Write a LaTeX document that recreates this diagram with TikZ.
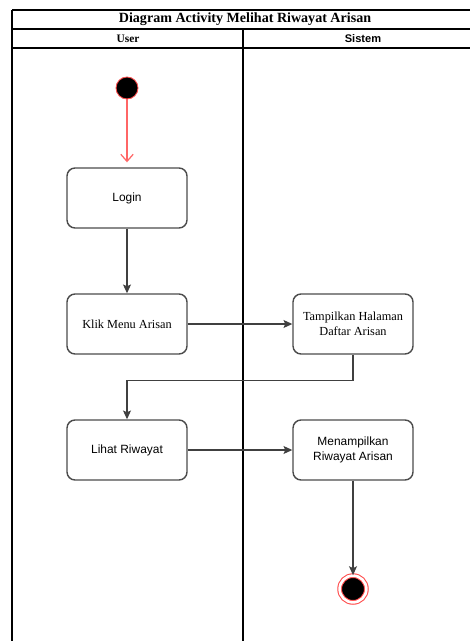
\documentclass[tikz,border=0pt]{standalone}
\usepackage{fontspec}
\setmainfont{Liberation Serif}
\setsansfont{Liberation Sans}
\usetikzlibrary{arrows.meta}

\begin{document}
\begin{tikzpicture}[x=0.02cm,y=-0.02cm,
    act/.style={draw=black!70,line width=0.8pt,rounded corners=0.16cm,fill=white,
      minimum width=2.4cm,minimum height=1.2cm,align=center,inner sep=1pt},
    actsf/.style={act,font=\sffamily\fontsize{6.8}{8.5}\selectfont},
    actrm/.style={act,font=\rmfamily\fontsize{7}{8.5}\selectfont},
    flow/.style={draw=black!75,line width=0.7pt,-{Stealth[length=5pt,width=4.5pt,inset=1pt]}}]
  \useasboundingbox (0,0) rectangle (470,641);

  % frame of the swimlanes
  \coordinate (TL) at (12,10);
  \coordinate (TR) at (470,10);
  \coordinate (HL) at (12,29);
  \coordinate (HR) at (470,29);
  \coordinate (BL) at (12,48);
  \coordinate (BR) at (470,48);
  \coordinate (Mid) at (243,29);
  \coordinate (Midb) at (243,641);
  \coordinate (Leftb) at (12,641);

  \draw[line width=0.7pt] (TL) -- (TR);
  \draw[line width=0.6pt] (HL) -- (HR);
  \draw[line width=0.6pt] (BL) -- (BR);
  \draw[line width=0.7pt] (TL) -- (Leftb);
  \draw[line width=0.6pt] (Mid) -- (Midb);

  \node[font=\rmfamily\bfseries\fontsize{8}{9.5}\selectfont] (title) at (245,19.5) {Diagram Activity Melihat Riwayat Arisan};
  \node[font=\rmfamily\bfseries\fontsize{6.5}{8}\selectfont] (user) at (128,38.5) {User};
  \node[font=\sffamily\bfseries\fontsize{6.3}{8}\selectfont] (sistem) at (363,38.5) {Sistem};

  % activities
  \node[circle,fill=black,draw=red!70,line width=0.5pt,minimum size=0.44cm,inner sep=0pt] (start) at (127,88) {};
  \node[actsf] (login) at (127,198) {Login};
  \node[actrm] (klik) at (127,324) {Klik Menu Arisan};
  \node[actrm] (tampil) at (353,324) {Tampilkan Halaman\\Daftar Arisan};
  \node[actsf] (lihat) at (127,450) {Lihat Riwayat};
  \node[actsf] (menampil) at (353,450) {Menampilkan\\Riwayat Arisan};
  \node[circle,fill=black,draw=red!70,line width=0.6pt,double=white,double distance=1.5pt,
    minimum size=0.535cm,inner sep=0pt] (end) at (353,589) {};

  \draw[red!60,line width=0.7pt,-{Straight Barb[length=4pt,width=7pt]}] (start) -- ([yshift=0.1cm]login.north);
  \draw[flow] (login) -- (klik);
  \draw[flow] (klik) -- (tampil);
  \draw[flow] (tampil.south) -- ++(0,26) -| (lihat.north);
  \draw[flow] (lihat) -- (menampil);
  \draw[flow] (menampil) -- (end);
\end{tikzpicture}
\end{document}
